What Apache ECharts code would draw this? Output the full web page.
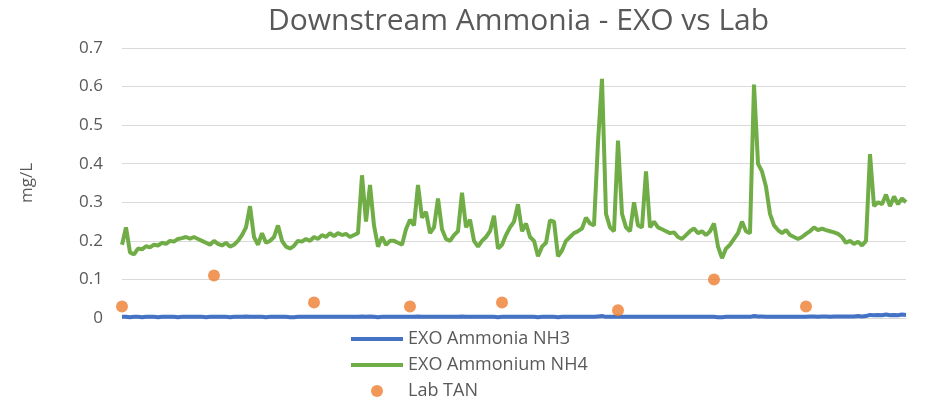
<!DOCTYPE html>
<html>
<head>
<meta charset="utf-8">
<title>Downstream Ammonia - EXO vs Lab</title>
<script src="https://cdn.jsdelivr.net/npm/echarts@6/dist/echarts.min.js"></script>
<style>
  html, body { margin: 0; padding: 0; background: #fff; }
  #chart { width: 925px; height: 401px; }
</style>
</head>
<body>
<div id="chart"></div>
<script>
// EXO Ammonium NH4, one reading per sample
var nh4 = [
  0.19, 0.235, 0.17, 0.165, 0.18, 0.178, 0.186, 0.183, 0.19, 0.188,
  0.195, 0.192, 0.2, 0.198, 0.205, 0.207, 0.21, 0.206, 0.21, 0.205,
  0.2, 0.195, 0.19, 0.2, 0.192, 0.188, 0.195, 0.185, 0.19, 0.2,
  0.215, 0.235, 0.29, 0.21, 0.19, 0.22, 0.195, 0.2, 0.21, 0.24,
  0.2, 0.185, 0.18, 0.187, 0.2, 0.198, 0.205, 0.2, 0.21, 0.205,
  0.215, 0.21, 0.22, 0.212, 0.22, 0.215, 0.218, 0.21, 0.215, 0.22,
  0.37, 0.25, 0.345, 0.24, 0.185, 0.21, 0.19, 0.2, 0.2, 0.195,
  0.19, 0.23, 0.255, 0.24, 0.345, 0.26, 0.275, 0.22, 0.235, 0.31,
  0.23, 0.205, 0.2, 0.215, 0.225, 0.325, 0.235, 0.255, 0.2, 0.185,
  0.2, 0.21, 0.225, 0.265, 0.18, 0.19, 0.215, 0.235, 0.25, 0.295,
  0.225, 0.245, 0.21, 0.2, 0.16, 0.185, 0.195, 0.253, 0.25, 0.16,
  0.175, 0.2, 0.21, 0.22, 0.225, 0.232, 0.26, 0.245, 0.24, 0.455,
  0.62, 0.27, 0.235, 0.225, 0.46, 0.27, 0.235, 0.225, 0.3, 0.24,
  0.235, 0.38, 0.235, 0.25, 0.235, 0.23, 0.225, 0.22, 0.222, 0.21,
  0.205, 0.215, 0.225, 0.232, 0.22, 0.225, 0.215, 0.225, 0.245, 0.185,
  0.155, 0.18, 0.19, 0.205, 0.22, 0.25, 0.225, 0.22, 0.605, 0.4,
  0.38, 0.34, 0.27, 0.24, 0.228, 0.22, 0.228, 0.215, 0.21, 0.205,
  0.21, 0.218, 0.225, 0.235, 0.228, 0.232, 0.228, 0.225, 0.222, 0.218,
  0.21, 0.195, 0.2, 0.192, 0.198, 0.188, 0.2, 0.425, 0.29, 0.3,
  0.295, 0.32, 0.29, 0.315, 0.295, 0.31, 0.3
]

// EXO Ammonia NH3, same samples
var nh3 = [
  0.003, 0.003, 0.002, 0.003, 0.003, 0.002, 0.003, 0.003, 0.003, 0.002,
  0.003, 0.003, 0.003, 0.003, 0.002, 0.003, 0.003, 0.003, 0.003, 0.003,
  0.003, 0.002, 0.003, 0.003, 0.003, 0.003, 0.003, 0.002, 0.003, 0.003,
  0.003, 0.004, 0.003, 0.003, 0.003, 0.003, 0.002, 0.003, 0.003, 0.003,
  0.003, 0.003, 0.002, 0.002, 0.003, 0.003, 0.003, 0.003, 0.003, 0.003,
  0.003, 0.003, 0.003, 0.003, 0.003, 0.003, 0.003, 0.003, 0.003, 0.003,
  0.004, 0.003, 0.004, 0.003, 0.002, 0.003, 0.003, 0.003, 0.003, 0.003,
  0.003, 0.003, 0.003, 0.003, 0.004, 0.003, 0.003, 0.003, 0.003, 0.003,
  0.003, 0.003, 0.003, 0.003, 0.003, 0.004, 0.003, 0.003, 0.003, 0.003,
  0.003, 0.003, 0.003, 0.003, 0.002, 0.003, 0.003, 0.003, 0.003, 0.003,
  0.003, 0.003, 0.003, 0.003, 0.002, 0.003, 0.003, 0.003, 0.003, 0.002,
  0.003, 0.003, 0.003, 0.003, 0.003, 0.003, 0.003, 0.003, 0.003, 0.004,
  0.005, 0.003, 0.003, 0.003, 0.004, 0.003, 0.003, 0.003, 0.003, 0.003,
  0.003, 0.003, 0.003, 0.003, 0.003, 0.003, 0.003, 0.003, 0.003, 0.003,
  0.003, 0.003, 0.003, 0.003, 0.003, 0.003, 0.003, 0.003, 0.003, 0.002,
  0.002, 0.003, 0.003, 0.003, 0.003, 0.003, 0.003, 0.003, 0.005, 0.004,
  0.004, 0.003, 0.003, 0.003, 0.003, 0.003, 0.003, 0.003, 0.003, 0.003,
  0.003, 0.003, 0.004, 0.004, 0.003, 0.004, 0.004, 0.003, 0.004, 0.004,
  0.004, 0.004, 0.004, 0.004, 0.005, 0.004, 0.005, 0.008, 0.007, 0.008,
  0.007, 0.009, 0.007, 0.008, 0.007, 0.009, 0.008
]

// Lab TAN grab samples: sample index and value
var labIdx = [0, 23, 48, 72, 95, 124, 148, 171]
var labTan = [0.03, 0.11, 0.04, 0.03, 0.04, 0.02, 0.10, 0.03]

var yTicks = [0, 0.1, 0.2, 0.3, 0.4, 0.5, 0.6, 0.7]

var samples = nh4.map(function (v, i) { return i })
var labData = labIdx.map(function (idx, i) { return [idx, labTan[i]] })

var textColor = '#595959'
var fontFamily = '"Open Sans", "Noto Sans", sans-serif'
// flat bar used as the legend mark for the two line series
var lineIcon = 'path://M0,0 L52,0 L52,4 L0,4 Z'

var mCharts = echarts.init(document.getElementById('chart'))
var option = {
  backgroundColor: '#fff',
  animation: false,
  title: {
    text: 'Downstream Ammonia - EXO vs Lab',
    left: 263,
    top: 1,
    textStyle: {
      color: textColor,
      fontSize: 30,
      fontWeight: 'normal',
      fontFamily: fontFamily
    }
  },
  grid: {
    left: 122,
    right: 19,
    top: 48,
    bottom: 83
  },
  legend: {
    orient: 'vertical',
    left: 346,
    top: 325,
    height: 100,
    itemWidth: 52,
    itemHeight: 12,
    itemGap: 8,
    symbolKeepAspect: true,
    textStyle: {
      color: textColor,
      fontSize: 18,
      fontFamily: fontFamily
    },
    data: [
      { name: 'EXO Ammonia NH3', icon: lineIcon },
      { name: 'EXO Ammonium NH4', icon: lineIcon },
      { name: 'Lab TAN', icon: 'circle' }
    ]
  },
  xAxis: {
    type: 'category',
    data: samples,
    boundaryGap: false,
    axisLine: { show: false },
    axisTick: { show: false },
    axisLabel: { show: false },
    splitLine: { show: false }
  },
  yAxis: {
    type: 'value',
    min: yTicks[0],
    max: yTicks[yTicks.length - 1],
    interval: 0.1,
    name: 'mg/L',
    nameLocation: 'middle',
    nameGap: 86,
    nameTextStyle: {
      color: textColor,
      fontSize: 17,
      fontFamily: fontFamily
    },
    axisLine: { show: false },
    axisTick: { show: false },
    axisLabel: {
      color: textColor,
      fontSize: 17,
      fontFamily: fontFamily,
      margin: 19,
      formatter: function (v) { return String(Math.round(v * 10) / 10) }
    },
    splitLine: {
      lineStyle: { color: '#d9d9d9', width: 1 }
    }
  },
  series: [
    {
      name: 'EXO Ammonia NH3',
      type: 'line',
      data: nh3,
      symbol: 'none',
      lineStyle: { color: '#4472c4', width: 4 },
      itemStyle: { color: '#4472c4' },
      z: 3
    },
    {
      name: 'EXO Ammonium NH4',
      type: 'line',
      data: nh4,
      symbol: 'none',
      lineStyle: { color: '#70ad47', width: 4 },
      itemStyle: { color: '#70ad47' },
      z: 2
    },
    {
      name: 'Lab TAN',
      type: 'scatter',
      data: labData,
      symbol: 'circle',
      symbolSize: 12,
      itemStyle: { color: '#ed7d31' },
      z: 4
    }
  ]
}
mCharts.setOption(option)
</script>
</body>
</html>
